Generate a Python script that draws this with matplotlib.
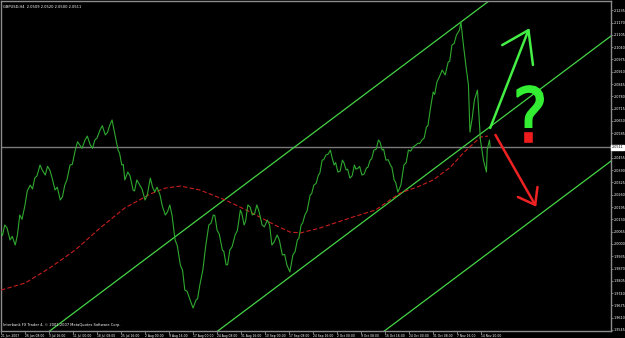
import numpy as np
import matplotlib
matplotlib.use("Agg")
import matplotlib.pyplot as plt
import matplotlib.transforms as mtransforms
from matplotlib.textpath import TextPath
from matplotlib.font_manager import FontProperties
from matplotlib.patches import Polygon

# GBPUSD H4 close, sampled from the chart (bar index, price)
bars = [0, 2, 5, 8, 12, 15, 19, 22, 25, 28, 32, 35, 39, 42, 45, 48, 52, 55, 59, 62,
        65, 68, 72, 75, 79, 82, 85, 88, 92, 95, 99, 102, 105, 108, 112, 115, 119, 122, 125, 128,
        132, 135, 139, 142, 145, 148, 152, 156, 158, 161, 163, 165, 169, 172, 176, 178, 181, 185, 188, 192,
        195, 199, 202, 205, 208, 212, 215, 219, 222, 225, 228, 232, 235, 239, 242, 245, 248, 252, 256, 260,
        262, 265, 269, 273, 277, 280, 283, 285, 288, 291, 295, 297, 300, 302, 305, 308, 312, 315, 319, 321,
        324, 326, 329, 332, 335, 338, 341, 344, 348, 351, 355, 358, 361, 364, 368, 371, 375, 378, 381, 385,
        389, 392, 395, 397, 400, 402, 405, 408, 412, 414, 417, 420, 423, 425, 428, 430, 433, 436, 439, 441,
        444, 446, 449, 452, 455, 457, 460, 462, 465, 468, 471, 473, 476, 478, 481, 484, 487, 489, 492, 494,
        497, 500, 503, 505, 508, 510, 513, 516, 519, 521, 524, 526, 529, 533, 537, 540, 543, 546, 549, 552,
        556, 558, 561, 564, 567, 569, 572, 576, 578, 581, 584, 588, 592, 596, 598, 601, 604, 607, 611, 613,
        616, 620, 623, 625, 628, 631, 635, 639, 643, 647, 648, 651, 652]
close = [2.0063, 2.0045, 2.0100, 2.0085, 2.0021, 2.0040, 1.9994, 2.0050, 2.0153, 2.0130,
         2.0206, 2.0280, 2.0311, 2.0290, 2.0348, 2.0360, 2.0417, 2.0390, 2.0364, 2.0410,
         2.0391, 2.0350, 2.0285, 2.0300, 2.0232, 2.0250, 2.0311, 2.0340, 2.0417, 2.0420,
         2.0496, 2.0540, 2.0523, 2.0505, 2.0549, 2.0570, 2.0523, 2.0505, 2.0549, 2.0560,
         2.0602, 2.0625, 2.0576, 2.0590, 2.0628, 2.0655, 2.0576, 2.0496, 2.0480, 2.0417,
         2.0420, 2.0338, 2.0380, 2.0360, 2.0285, 2.0280, 2.0338, 2.0311, 2.0290, 2.0232,
         2.0260, 2.0348, 2.0300, 2.0274, 2.0300, 2.0258, 2.0200, 2.0153, 2.0170, 2.0206,
         2.0150, 2.0021, 1.9990, 1.9889, 1.9860, 1.9756, 1.9750, 1.9704, 1.9661, 1.9704,
         1.9710, 1.9783, 1.9862, 1.9994, 2.0100, 2.0110, 2.0153, 2.0150, 2.0073, 2.0050,
         1.9968, 1.9960, 1.9889, 1.9890, 1.9968, 1.9985, 2.0047, 2.0070, 2.0179, 2.0160,
         2.0100, 2.0120, 2.0206, 2.0195, 2.0153, 2.0160, 2.0206, 2.0170, 2.0100, 2.0090,
         2.0126, 2.0100, 1.9994, 2.0010, 2.0047, 2.0020, 1.9941, 1.9945, 1.9889, 1.9852,
         1.9941, 1.9960, 2.0021, 2.0030, 2.0100, 2.0110, 2.0153, 2.0175, 2.0258, 2.0265,
         2.0311, 2.0320, 2.0364, 2.0375, 2.0443, 2.0445, 2.0470, 2.0475, 2.0496, 2.0460,
         2.0417, 2.0430, 2.0380, 2.0385, 2.0443, 2.0430, 2.0391, 2.0395, 2.0348, 2.0360,
         2.0417, 2.0395, 2.0401, 2.0410, 2.0364, 2.0370, 2.0401, 2.0405, 2.0443, 2.0450,
         2.0496, 2.0500, 2.0549, 2.0540, 2.0496, 2.0500, 2.0443, 2.0445, 2.0417, 2.0405,
         2.0338, 2.0325, 2.0274, 2.0311, 2.0417, 2.0430, 2.0496, 2.0490, 2.0512, 2.0520,
         2.0533, 2.0530, 2.0549, 2.0560, 2.0618, 2.0625, 2.0708, 2.0803, 2.0790, 2.0856,
         2.0880, 2.0919, 2.0893, 2.0961, 2.0965, 2.1051, 2.1060, 2.1104, 2.1130, 2.1173,
         2.1062, 2.0930, 2.0840, 2.0591, 2.0665, 2.0761, 2.0813, 2.0549, 2.0443, 2.0380,
         2.0496, 2.0549, 2.0511]

# moving average (red dashed)
ma_bars = [0, 32, 65, 99, 132, 165, 199, 219, 239, 265, 299, 332, 365, 385, 399, 425,
           465, 499, 532, 555, 576, 599, 616, 639, 649]
ma_vals = [1.9756, 1.9793, 1.9873, 1.9968, 2.0084, 2.0190, 2.0264, 2.0295, 2.0306, 2.0285,
           2.0232, 2.0169, 2.0100, 2.0063, 2.0058, 2.0084, 2.0137, 2.0179, 2.0269, 2.0301,
           2.0338, 2.0406, 2.0480, 2.0565, 2.0570]

# equidistant channel: two anchors per line
chan_a = [(63, 1.9534), (287, 1.9534), (509, 1.9534)]
chan_b = [(652, 2.1289), (813, 2.1099), (813, 2.0438)]

bid = 2.0511

y_ticks = [1.9545, 1.9610, 1.9675, 1.9740, 1.9805, 1.9870, 1.9935, 2.0000, 2.0065,
           2.0130, 2.0195, 2.0260, 2.0325, 2.0390, 2.0455, 2.0585, 2.0650,
           2.0715, 2.0780, 2.0845, 2.0910, 2.0975, 2.1040, 2.1105, 2.1170, 2.1235]
x_ticks = [0, 32, 64, 96, 128, 160, 192, 224, 256, 288, 320, 352, 384, 416, 448,
           480, 512, 544, 576, 608, 640]
x_labels = ["21 Jun 2007", "26 Jun 08:00", "3 Jul 16:00", "11 Jul 00:00", "18 Jul 08:00",
            "25 Jul 16:00", "2 Aug 00:00", "9 Aug 16:00", "17 Aug 00:00", "24 Aug 08:00",
            "31 Aug 16:00", "10 Sep 00:00", "17 Sep 08:00", "24 Sep 16:00", "2 Oct 00:00",
            "9 Oct 08:00", "16 Oct 16:00", "24 Oct 00:00", "31 Oct 08:00", "7 Nov 16:00",
            "14 Nov 20:00"]

# hand drawn arrows
up_arrow = [(652, 2.0613), (703, 2.1130)]
up_head = [(668, 2.1051), (703, 2.1130), (709, 2.0946)]
dn_arrow = [(659, 2.0576), (712, 2.0206)]
dn_head = [(689, 2.0248), (712, 2.0206), (715, 2.0301)]
qmark_at = (688, 2.0539)

fig = plt.figure(figsize=(6.25, 3.38), dpi=100, facecolor="black")
ax = fig.add_axes([1 / 625, 7 / 338, 610 / 625, 330 / 338], facecolor="black")
ax.set_xlim(0, 813)
ax.set_ylim(1.95397, 2.1284)

grey = "#8c8c8c"
for s in ax.spines.values():
    s.set_color(grey)
    s.set_linewidth(1)

ax.axhline(bid, color="#7a7a7a", lw=1, zorder=1)

for a, b in zip(chan_a, chan_b):
    ax.axline(a, b, color="#44d444", lw=0.9, zorder=2)

ax.plot(ma_bars, ma_vals, color="#c81e1e", lw=0.8, ls=(0, (4, 2)), zorder=3)
ax.plot(bars, close, color="#2fa82f", lw=0.8, zorder=4)

# arrows
ux, uy = zip(*up_arrow)
ax.plot(ux, uy, color="#44ee44", lw=1.8, solid_capstyle="round", zorder=5)
hx, hy = zip(*up_head)
ax.plot(hx, hy, color="#44ee44", lw=1.8, solid_capstyle="round", solid_joinstyle="round", zorder=5)
dx, dy = zip(*dn_arrow)
ax.plot(dx, dy, color="#ee2222", lw=1.8, solid_capstyle="round", zorder=5)
hx, hy = zip(*dn_head)
ax.plot(hx, hy, color="#ee2222", lw=1.8, solid_capstyle="round", solid_joinstyle="round", zorder=5)

# question mark: green hook, red dot
tp = TextPath((0, 0), "?", size=1, prop=FontProperties(family="DejaVu Sans"))
polys = tp.to_polygons()
allv = np.vstack(polys)
x0, y0 = allv.min(axis=0)
x1, y1 = allv.max(axis=0)
W, H = 26, 56
off = mtransforms.ScaledTranslation(qmark_at[0], qmark_at[1], ax.transData)
dot_i = int(np.argmin([p[:, 1].max() for p in polys]))
for i, p in enumerate(polys):
    v = (p - [x0, y0]) / [x1 - x0, y1 - y0] * [W, H]
    col = "#ee1c1c" if i == dot_i else "#33ee33"
    ax.add_patch(Polygon(v, closed=True, facecolor=col, edgecolor=col, lw=1.2,
                         transform=off, zorder=6, clip_on=False))

# axes ticks
ax.yaxis.tick_right()
ax.set_yticks(y_ticks)
ax.set_yticklabels([f"{t:.4f}" for t in y_ticks])
ax.set_xticks(x_ticks)
ax.set_xticklabels(x_labels, ha="left")
ax.tick_params(axis="y", colors=grey, labelcolor="white", labelsize=2.4, length=1.5, width=0.6, pad=0.5)
ax.tick_params(axis="x", colors=grey, labelcolor="white", labelsize=2.2, length=2, width=0.6, pad=0.5)

ax.text(1.001, bid, f"{bid:.4f}", transform=ax.get_yaxis_transform(), fontsize=2.4,
        color="black", va="center", ha="left",
        bbox=dict(boxstyle="square,pad=0.2", fc="white", ec="white"), zorder=10, clip_on=False)

ax.text(0.003, 0.988, "GBPUSD,H4  2.0509 2.0520 2.0500 2.0511", transform=ax.transAxes,
        fontsize=2.6, color="white", va="top", ha="left")
ax.text(0.003, 0.012, "Interbank FX Trader 4, \u00a9 2001-2007 MetaQuotes Software Corp.",
        transform=ax.transAxes, fontsize=2.6, color="white", va="bottom", ha="left")

fig.savefig("out.png", dpi=100, facecolor="black")
